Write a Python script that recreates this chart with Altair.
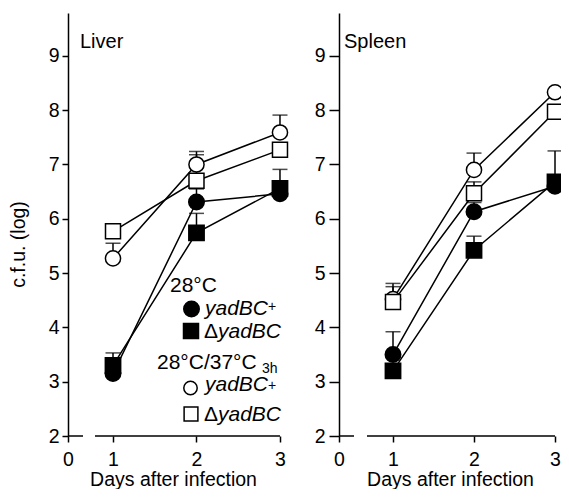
import altair as alt
import pandas as pd

FONT = "Liberation Sans"

days = [1, 2, 3]
series_keys = ["OS", "OC", "FC", "FS"]

# Liver (values in log c.f.u.)
liver_fc = [3.15, 6.31, 6.46]
liver_fs = [3.30, 5.74, 6.56]
liver_oc = [5.27, 7.00, 7.59]
liver_os = [5.77, 6.70, 7.27]
liver_fc_err = [None, 6.55, None]
liver_fs_err = [3.53, 6.10, 6.91]
liver_oc_err = [5.55, 7.24, 7.91]
liver_os_err = [None, 7.18, None]

# Spleen
spleen_fc = [3.50, 6.13, 6.60]
spleen_fs = [3.20, 5.42, 6.68]
spleen_oc = [4.52, 6.90, 8.33]
spleen_os = [4.47, 6.47, 7.97]
spleen_fc_err = [3.92, 6.30, None]
spleen_fs_err = [None, 5.68, 7.25]
spleen_oc_err = [4.81, 7.21, None]
spleen_os_err = [4.75, 6.68, None]

y_ticks = [2, 3, 4, 5, 6, 7, 8, 9]

panels = {
    "Liver": {"FC": (liver_fc, liver_fc_err), "FS": (liver_fs, liver_fs_err),
              "OC": (liver_oc, liver_oc_err), "OS": (liver_os, liver_os_err)},
    "Spleen": {"FC": (spleen_fc, spleen_fc_err), "FS": (spleen_fs, spleen_fs_err),
               "OC": (spleen_oc, spleen_oc_err), "OS": (spleen_os, spleen_os_err)},
}

rows = []
for pname, sdict in panels.items():
    for s in series_keys:
        vals, errs = sdict[s]
        for d, v, e in zip(days, vals, errs):
            rows.append({"panel": pname, "series": s, "day": d, "value": v, "err": e})
df = pd.DataFrame(rows)

HEIGHT = 423
Y_DOMAIN = [2, 9.79]

shape_scale = alt.Scale(domain=["FC", "FS", "OC", "OS"], range=["circle", "square", "circle", "square"])
fill_scale = alt.Scale(domain=["FC", "FS", "OC", "OS"], range=["black", "black", "white", "white"])
size_scale = alt.Scale(domain=["FC", "FS", "OC", "OS"], range=[240, 225, 180, 190])

one = pd.DataFrame({"d": [0]})


def text_layer(txt, x, y, size=21, style="normal", align="left"):
    return alt.Chart(one).mark_text(
        text=txt, font=FONT, fontSize=size, fontStyle=style, align=align,
        baseline="alphabetic", color="black"
    ).encode(x=alt.value(x), y=alt.value(y))


def marker_layer(x, y, shape, fill, size):
    return alt.Chart(one).mark_point(
        shape=shape, filled=True, fill=fill, stroke="black", strokeWidth=1.5,
        size=size, opacity=1
    ).encode(x=alt.value(x), y=alt.value(y))


def panel(name, d0, d1, width, brk, ytick, ylabpad, title_x, ytitle, label_x, clip):
    data = df[df.panel == name]
    xs = alt.Scale(domain=[d0, d1], nice=False, zero=False)
    ys = alt.Scale(domain=Y_DOMAIN, nice=False, zero=False)
    xaxis = alt.Axis(
        values=[d0, 1, 2, 3],
        labelExpr="datum.value < 0.9 ? '0' : format(datum.value, 'd')",
        domain=False, ticks=True, tickSize=6, tickColor="black", tickWidth=1.5,
        labelFont=FONT, labelFontSize=19.5, labelColor="black", labelPadding=8,
        labelOverlap=False, labelFlush=False, grid=False,
        title="Days after infection", titleFont=FONT, titleFontSize=19.5,
        titleFontWeight="normal", titleColor="black", titleX=title_x, titleY=49,
        titleBaseline="alphabetic", titleAlign="center",
    )
    yaxis_kw = dict(
        values=y_ticks, domain=True, domainColor="black", domainWidth=1.5,
        ticks=True, tickSize=ytick, tickColor="black", tickWidth=1.5,
        labelFont=FONT, labelFontSize=19.5, labelColor="black", labelPadding=ylabpad,
        labelOverlap=False, labelFlush=False, grid=False,
    )
    if ytitle:
        yaxis = alt.Axis(
            title="c.f.u. (log)", titleFont=FONT, titleFontSize=19.5,
            titleFontWeight="normal", titleColor="black", titleX=-50, titleY=231,
            titleAngle=270, titleBaseline="middle", titleAlign="center", **yaxis_kw)
    else:
        yaxis = alt.Axis(title=None, **yaxis_kw)

    X = alt.X("day:Q", scale=xs, axis=xaxis)
    Y = alt.Y("value:Q", scale=ys, axis=yaxis)

    lines = alt.Chart(data).mark_line(color="black", strokeWidth=1.5, clip=clip).encode(
        x=X, y=Y, detail="series:N")
    errdata = data.dropna(subset=["err"])
    errs = alt.Chart(errdata).mark_rule(color="black", strokeWidth=1.5, clip=clip).encode(
        x=X, y=Y, y2="err:Q")
    caps = alt.Chart(errdata).mark_tick(color="black", thickness=1.5, size=15,
                                         orient="horizontal", clip=clip).encode(
        x=X, y=alt.Y("err:Q", scale=ys, axis=yaxis))
    pts = alt.Chart(data).mark_point(filled=True, stroke="black", strokeWidth=1.5,
                                     opacity=1, clip=clip).encode(
        x=X, y=Y,
        shape=alt.Shape("series:N", scale=shape_scale, legend=None),
        fill=alt.Fill("series:N", scale=fill_scale, legend=None),
        size=alt.Size("series:N", scale=size_scale, legend=None),
        order=alt.Order("series:N"),
    )
    brkdf = pd.DataFrame({"x": [d0, brk[1]], "x2": [brk[0], 3]})
    xline = alt.Chart(brkdf).mark_rule(color="black", strokeWidth=1.5).encode(
        x=alt.X("x:Q", scale=xs, axis=xaxis), x2="x2:Q", y=alt.value(HEIGHT))
    label = text_layer(name, label_x, 35, size=20)
    layers = [xline, lines, errs, caps, pts, label]
    return alt.layer(*layers).properties(width=width, height=HEIGHT)


left = panel("Liver", 0.461, 3.120, 222, (0.641, 0.784), 6, 3, 105, True, 12, False)
right = panel("Spleen", 0.3333, 3.074, 222, (0.5185, 0.679), 10, 4, 111, False, 5, True)

# legend (inside Liver panel)
legend = [
    text_layer("28°C", 102, 279),
    marker_layer(123.5, 296, "circle", "black", 240),
    text_layer("yadBC", 137, 302, style="italic"),
    text_layer("+", 200, 298, size=14),
    marker_layer(123, 318, "square", "black", 225),
    text_layer("Δ", 136, 325),
    text_layer("yadBC", 150, 325, style="italic"),
    text_layer("28°C/37°C", 89, 356),
    text_layer("3h", 194, 360, size=14),
    marker_layer(122.5, 375, "circle", "white", 180),
    text_layer("yadBC", 137, 378, style="italic"),
    text_layer("+", 200, 377, size=14),
    marker_layer(123, 401, "square", "white", 190),
    text_layer("Δ", 136, 408),
    text_layer("yadBC", 150, 408, style="italic"),
]
left = alt.layer(left, *legend)

chart = alt.hconcat(left, right, spacing=49, bounds="flush").properties(
    padding={"left": 0, "top": 5, "right": 0, "bottom": 0}
).configure_view(stroke=None)

chart.save("out.html", embed_options={"renderer": "svg", "actions": False})
